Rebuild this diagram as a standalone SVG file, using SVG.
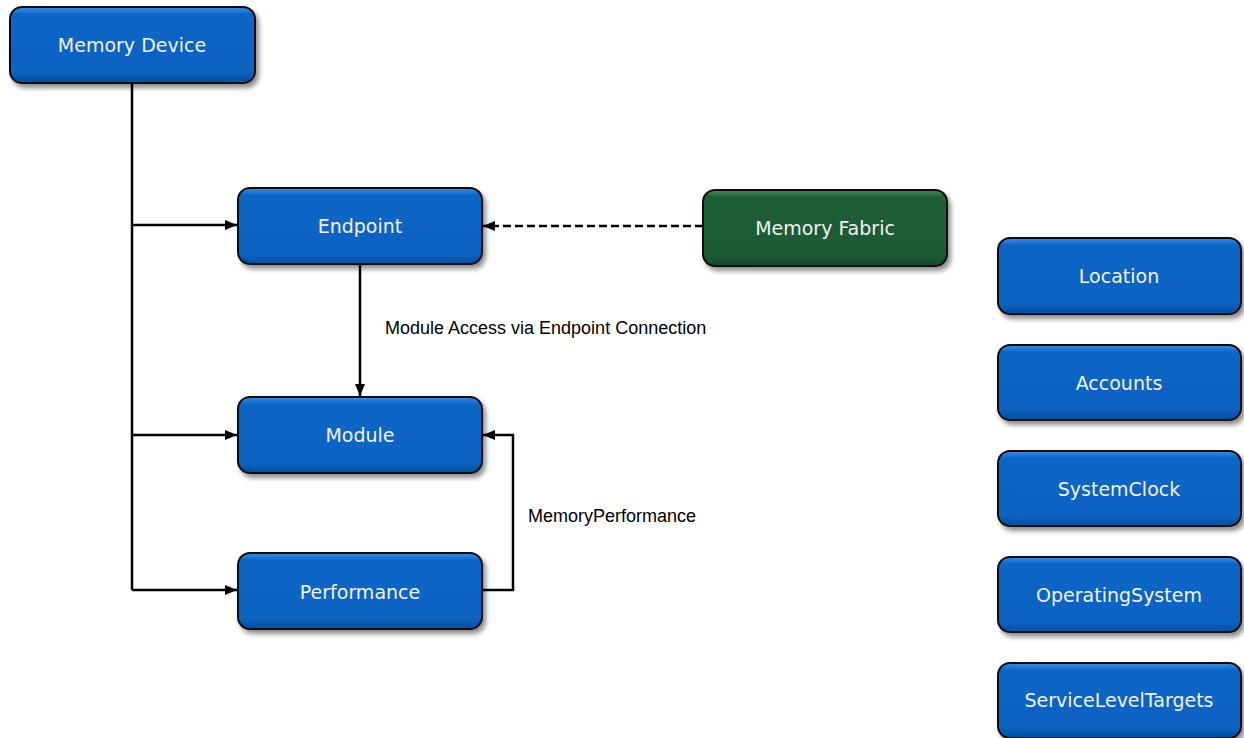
<svg xmlns="http://www.w3.org/2000/svg" width="1244" height="738" viewBox="0 0 1244 738">
<defs>
<filter id="sh" x="-10%" y="-20%" width="125%" height="160%">
<feGaussianBlur in="SourceAlpha" stdDeviation="2.5"/>
<feOffset dx="3" dy="4" result="b"/>
<feComponentTransfer><feFuncA type="linear" slope="0.45"/></feComponentTransfer>
<feMerge><feMergeNode/><feMergeNode in="SourceGraphic"/></feMerge>
</filter>
<linearGradient id="gb" x1="0" y1="0" x2="0" y2="1">
<stop offset="0" stop-color="#3f8ae0"/>
<stop offset="0.1" stop-color="#0a66c6"/>
<stop offset="0.85" stop-color="#0863c2"/>
<stop offset="1" stop-color="#0550a0"/>
</linearGradient>
<linearGradient id="gg" x1="0" y1="0" x2="0" y2="1">
<stop offset="0" stop-color="#4b8560"/>
<stop offset="0.1" stop-color="#1d5e36"/>
<stop offset="0.85" stop-color="#1b5c34"/>
<stop offset="1" stop-color="#144a29"/>
</linearGradient>
<marker id="ah" viewBox="0 0 12 12" refX="12" refY="6" markerWidth="12" markerHeight="12" markerUnits="userSpaceOnUse" orient="auto">
<path d="M0,1 L12,6 L0,11 z" fill="#000"/>
</marker>
<style>
.nb{fill:url(#gb);stroke:#111;stroke-width:2;filter:url(#sh)}
.ng{fill:url(#gg);stroke:#111;stroke-width:2;filter:url(#sh)}
.nt{font-family:"DejaVu Sans",Verdana,sans-serif;font-size:19px;fill:#f2f2f2;text-anchor:middle;dominant-baseline:central}
.ln{fill:none;stroke:#000;stroke-width:2.5}
.lb{font-family:"Liberation Sans",Arial,sans-serif;font-size:18px;fill:#000}
</style>
</defs>
<rect width="1244" height="738" fill="#fff"/>
<g id="connectors">
<path class="ln" d="M132,83 V590"/>
<path class="ln" d="M132,225 H237" marker-end="url(#ah)"/>
<path class="ln" d="M132,435 H237" marker-end="url(#ah)"/>
<path class="ln" d="M132,590 H237" marker-end="url(#ah)"/>
<path class="ln" d="M360,264 V396" marker-end="url(#ah)"/>
<path class="ln" d="M703,226 H483" stroke-dasharray="8,4" marker-end="url(#ah)"/>
<path class="ln" d="M482,590 H513 V435 H483" marker-end="url(#ah)"/>
<text class="lb" x="385" y="334">Module Access via Endpoint Connection</text>
<text class="lb" x="528" y="522">MemoryPerformance</text>
</g>
<g id="memory-device"><rect class="nb" x="10" y="7" width="245" height="76" rx="12"/><text class="nt" x="132" y="45">Memory Device</text></g>
<g id="endpoint"><rect class="nb" x="238" y="188" width="244" height="76" rx="12"/><text class="nt" x="360" y="226">Endpoint</text></g>
<g id="module"><rect class="nb" x="238" y="397" width="244" height="76" rx="12"/><text class="nt" x="360" y="435">Module</text></g>
<g id="performance"><rect class="nb" x="238" y="553" width="244" height="76" rx="12"/><text class="nt" x="360" y="592">Performance</text></g>
<g id="memory-fabric"><rect class="ng" x="703" y="190" width="244" height="76" rx="12"/><text class="nt" x="825" y="228">Memory Fabric</text></g>
<g id="location"><rect class="nb" x="998" y="238" width="243" height="76" rx="12"/><text class="nt" x="1119" y="276">Location</text></g>
<g id="accounts"><rect class="nb" x="998" y="345" width="243" height="75" rx="12"/><text class="nt" x="1119" y="383">Accounts</text></g>
<g id="systemclock"><rect class="nb" x="998" y="451" width="243" height="75" rx="12"/><text class="nt" x="1119" y="489">SystemClock</text></g>
<g id="operatingsystem"><rect class="nb" x="998" y="557" width="243" height="75" rx="12"/><text class="nt" x="1119" y="595">OperatingSystem</text></g>
<g id="servicelevel"><rect class="nb" x="998" y="663" width="243" height="75" rx="12"/><text class="nt" x="1119" y="700">ServiceLevelTargets</text></g>
</svg>
